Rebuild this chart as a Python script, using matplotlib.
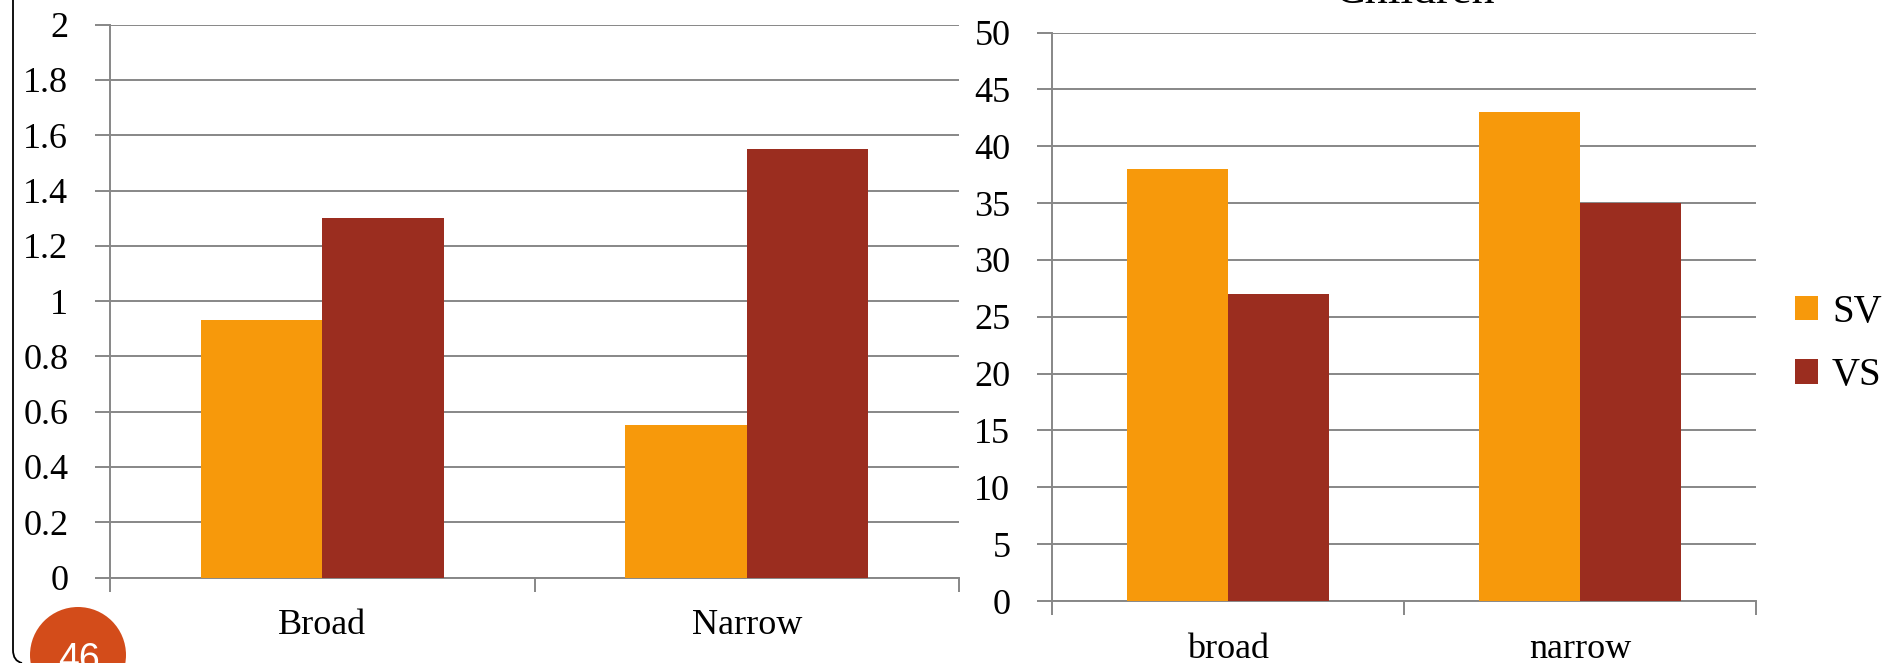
import matplotlib
matplotlib.use("Agg")
import matplotlib.pyplot as plt
from matplotlib.patches import Ellipse, Patch
from matplotlib.path import Path
from matplotlib.patches import PathPatch
import numpy as np

plt.rcParams['font.family'] = ['Liberation Serif', 'DejaVu Serif']

# ---- data ----
series_names = ["SV", "VS"]
left_categories = ["Broad", "Narrow"]
left_sv = [0.93, 0.55]
left_vs = [1.30, 1.55]
left_yticks = [0, 0.2, 0.4, 0.6, 0.8, 1, 1.2, 1.4, 1.6, 1.8, 2]

right_title = "Children"
right_categories = ["broad", "narrow"]
right_sv = [38, 43]
right_vs = [27, 35]
right_yticks = [0, 5, 10, 15, 20, 25, 30, 35, 40, 45, 50]

slide_number = "46"

# ---- style ----
C_SV = "#F7990B"
C_VS = "#9B2D1F"
GRID = "#878787"
BAR_W = 1 / 3.5  # two bars per category with a 150% gap

W, H = 1886, 663
fig = plt.figure(figsize=(W / 100, H / 100), dpi=100)


def px_axes(x0, x1, ytop, ybot):
    return fig.add_axes([x0 / W, 1 - ybot / H, (x1 - x0) / W, (ybot - ytop) / H])


def style_axes(ax, cats, ymax, yticks):
    n = len(cats)
    ax.set_xlim(-0.5, n - 0.5)
    ax.set_ylim(0, ymax)
    ax.set_yticks(yticks)
    ax.set_yticklabels([f"{v:g}" for v in yticks])
    ax.set_xticks(np.arange(-0.5, n, 1.0))
    ax.set_xticklabels([])
    ax.set_xticks(np.arange(n), minor=True)
    ax.set_xticklabels(cats, minor=True)
    ax.tick_params(axis='x', which='major', length=10, width=1.4, color=GRID,
                   direction='out')
    ax.tick_params(axis='x', which='minor', length=0, pad=23, labelsize=26)
    ax.tick_params(axis='y', length=11, width=1.4, color=GRID, direction='out',
                   pad=19, labelsize=26)
    for s in ("top", "right"):
        ax.spines[s].set_visible(False)
    for s in ("left", "bottom"):
        ax.spines[s].set_color(GRID)
        ax.spines[s].set_linewidth(1.4)
    ax.yaxis.grid(True, color=GRID, linewidth=1.4)
    ax.set_axisbelow(True)
    ax.set_facecolor("none")


# left panel
axL = px_axes(110, 959, 24.7, 577.5)
xl = np.arange(len(left_categories))
axL.bar(xl - BAR_W / 2, left_sv, BAR_W, color=C_SV, label=series_names[0], zorder=3)
axL.bar(xl + BAR_W / 2, left_vs, BAR_W, color=C_VS, label=series_names[1], zorder=3)
style_axes(axL, left_categories, 2, left_yticks)
axL.spines["left"].set_zorder(4)

# right panel
axR = px_axes(1052, 1756, 32.5, 601)
xr = np.arange(len(right_categories))
axR.bar(xr - BAR_W / 2, right_sv, BAR_W, color=C_SV, label=series_names[0], zorder=3)
axR.bar(xr + BAR_W / 2, right_vs, BAR_W, color=C_VS, label=series_names[1], zorder=3)
style_axes(axR, right_categories, 50, right_yticks)
axR.spines["left"].set_zorder(4)

fig.text(1414 / W, 1 - 3 / H, right_title, ha='center', va='baseline', fontsize=33)

handles = [Patch(facecolor=C_SV, edgecolor='none'), Patch(facecolor=C_VS, edgecolor='none')]
fig.legend(handles, series_names, loc='center left',
           bbox_to_anchor=(1795 / W, 1 - 344 / H), frameon=False, fontsize=28,
           handlelength=0.6, handleheight=0.6, handletextpad=0.35,
           labelspacing=0.68, borderaxespad=0, borderpad=0)

# slide frame edge on the left
verts = [(13 / W, 1.0), (13 / W, 1 - 650 / H), (13 / W, 1 - 661 / H), (22 / W, 1 - 663 / H)]
codes = [Path.MOVETO, Path.LINETO, Path.CURVE3, Path.CURVE3]
fig.add_artist(PathPatch(Path(verts, codes), transform=fig.transFigure,
                         facecolor='none', edgecolor='black', linewidth=1.3))

# slide number badge
fig.add_artist(Ellipse((78 / W, 1 - 655 / H), 96 / W, 96 / H,
                       transform=fig.transFigure, facecolor="#D34C1A", edgecolor='none'))
fig.text(79 / W, 1 - 670 / H, slide_number, ha='center', va='baseline',
         fontsize=27, color='white', family=['Liberation Sans', 'DejaVu Sans'])

fig.savefig("out.png", dpi=100)
